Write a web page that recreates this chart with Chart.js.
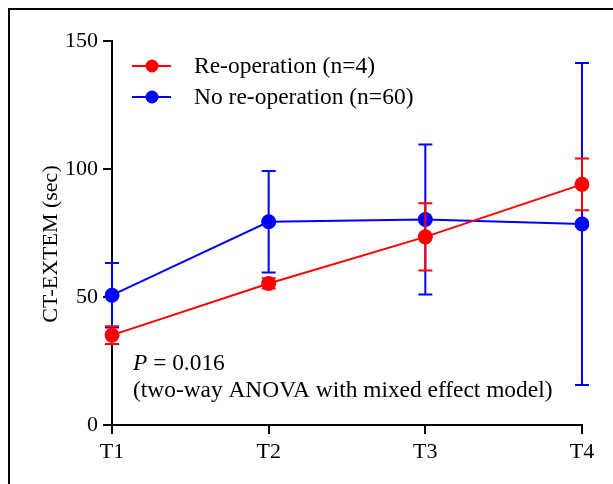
<!DOCTYPE html>
<html>
<head>
<meta charset="utf-8">
<script src="https://cdn.jsdelivr.net/npm/chart.js@4"></script>
<style>
  html, body { margin: 0; padding: 0; background: #fff; }
  #wrap { position: relative; width: 613px; height: 484px; overflow: hidden; }
  #frame { position: absolute; left: 8px; top: 8px; width: 700px; height: 600px;
           border-top: 2px solid #000; border-left: 2px solid #000; }
  canvas { position: absolute; left: 0; top: 0; }
</style>
</head>
<body>
<div id="wrap">
  <div id="frame"></div>
  <canvas id="myChart" width="613" height="484"></canvas>
</div>
<script>
// time points
var labels = ["T1", "T2", "T3", "T4"];
// mean CT-EXTEM (sec) and error (+/-)
var reopMean = [35.1, 55.3, 73.5, 94.0];
var reopErr = [3.5, 2.0, 13.1, 10.1];
var noReopMean = [50.7, 79.4, 80.3, 78.5];
var noReopErr = [12.6, 19.8, 29.3, 62.9];
var legendLabels = ["Re-operation (n=4)", "No re-operation (n=60)"];
var pText = "0.016";
var testText = "(two-way ANOVA with mixed effect model)";

var RED = "#ff0000";
var BLUE = "#0000ff";
var FONT = "'Liberation Serif', 'Times New Roman', serif";

Chart.defaults.font.family = FONT;
Chart.defaults.color = "#000";

// draws error bars under each dataset, then legend + p-value text
var extras = {
    id: "extras",
    beforeDatasetDraw: function (chart, args) {
        var ds = chart.data.datasets[args.index];
        var meta = args.meta;
        var y = chart.scales.y;
        var ctx = chart.ctx;
        ctx.save();
        ctx.strokeStyle = ds.borderColor;
        ctx.lineWidth = 2;
        meta.data.forEach(function (pt, i) {
            var hi = y.getPixelForValue(ds.data[i] + ds.errors[i]);
            var lo = y.getPixelForValue(ds.data[i] - ds.errors[i]);
            ctx.beginPath();
            ctx.moveTo(pt.x, hi); ctx.lineTo(pt.x, lo);
            ctx.moveTo(pt.x - 7, hi); ctx.lineTo(pt.x + 7, hi);
            ctx.moveTo(pt.x - 7, lo); ctx.lineTo(pt.x + 7, lo);
            ctx.stroke();
        });
        ctx.restore();
    },
    afterDraw: function (chart) {
        var ctx = chart.ctx;
        var a = chart.chartArea;
        ctx.save();
        // legend
        chart.data.datasets.forEach(function (ds, i) {
            var cy = a.top + 25 + i * 31;
            var cx = a.left + 40;
            ctx.strokeStyle = ds.borderColor;
            ctx.lineWidth = 2;
            ctx.beginPath();
            ctx.moveTo(cx - 20, cy); ctx.lineTo(cx + 19, cy);
            ctx.stroke();
            ctx.fillStyle = ds.borderColor;
            ctx.beginPath();
            ctx.arc(cx, cy, 6.5, 0, Math.PI * 2);
            ctx.fill();
            ctx.fillStyle = "#000";
            ctx.font = "23.5px " + FONT;
            ctx.textBaseline = "middle";
            ctx.fillText(legendLabels[i], a.left + 82, cy + 1);
        });
        // p value
        ctx.fillStyle = "#000";
        ctx.textBaseline = "alphabetic";
        var x0 = a.left + 21;
        ctx.font = "italic 23.4px " + FONT;
        ctx.fillText("P", x0, 370);
        var w = ctx.measureText("P").width;
        ctx.font = "23.4px " + FONT;
        ctx.fillText(" = " + pText, x0 + w, 370);
        ctx.fillText(testText, x0, 397);
        ctx.restore();
    }
};

var ctx = document.getElementById("myChart");
var myChart = new Chart(ctx, {
    type: "line",
    data: {
        labels: labels,
        datasets: [{
            label: legendLabels[0],
            data: reopMean,
            errors: reopErr,
            borderColor: RED,
            backgroundColor: RED,
            pointBackgroundColor: RED,
            pointBorderColor: RED,
            pointRadius: 7.5,
            pointBorderWidth: 0,
            borderWidth: 2
        },
        {
            label: legendLabels[1],
            data: noReopMean,
            errors: noReopErr,
            borderColor: BLUE,
            backgroundColor: BLUE,
            pointBackgroundColor: BLUE,
            pointBorderColor: BLUE,
            pointRadius: 7.5,
            pointBorderWidth: 0,
            borderWidth: 2
        }]
    },
    options: {
        responsive: false,
        animation: false,
        layout: { padding: { top: 41, right: 31, left: 0, bottom: 0 } },
        plugins: {
            legend: { display: false },
            tooltip: { enabled: false }
        },
        scales: {
            x: {
                offset: false,
                grid: { display: true, drawOnChartArea: false, drawTicks: true, tickLength: 9, color: "#000", lineWidth: 2 },
                border: { display: true, color: "#000", width: 2 },
                ticks: { font: { size: 22 }, color: "#000", padding: 5 },
                afterFit: function (s) { s.height = 59; }
            },
            y: {
                min: 0,
                max: 150,
                ticks: { stepSize: 50, font: { size: 22 }, color: "#000", padding: 5 },
                grid: { display: true, drawOnChartArea: false, drawTicks: true, tickLength: 9, color: "#000", lineWidth: 2 },
                border: { display: true, color: "#000", width: 2 },
                // trailing spaces nudge the rotated title down a little
                title: { display: true, text: "CT-EXTEM (sec)    ", font: { size: 22 }, color: "#000", padding: { top: 38, bottom: 0 } },
                afterFit: function (s) { s.width = 112; }
            }
        }
    },
    plugins: [extras]
});
</script>
</body>
</html>
